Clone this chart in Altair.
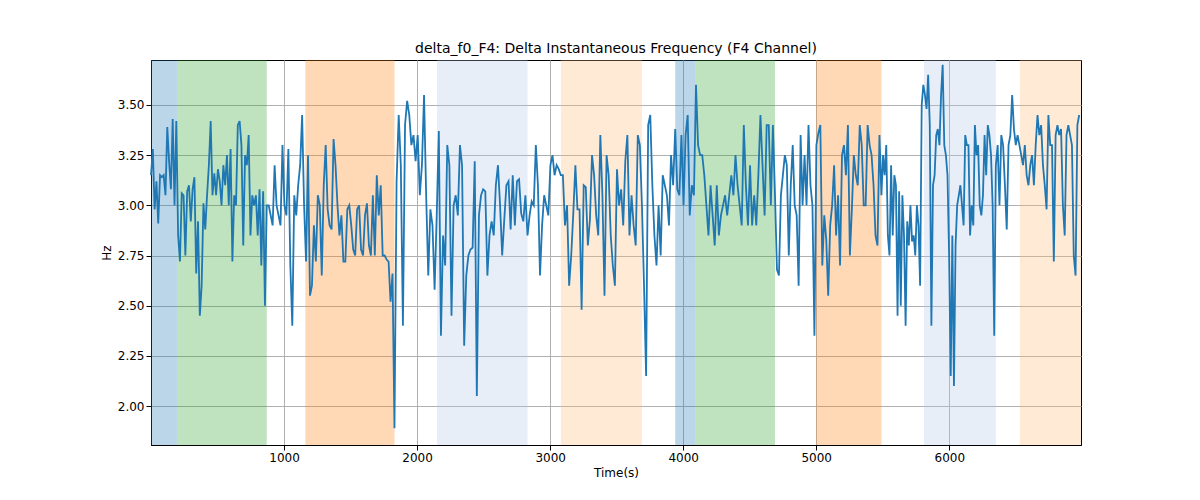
import altair as alt
import pandas as pd
import numpy as np

seg_bounds = [0, 870, 1830, 2830, 3690, 4690, 5490, 6350, 6990]
seg_vals = [
[3.15,3.28,2.98,3.12,2.91,3.15,3.14,3.15,3.05,3.39,3.22,3.08,3.43,3.00,3.42,2.85,2.72,3.06,3.05,2.75,3.07,3.10,2.92,3.08,3.14,2.66,2.92,2.45,2.60,3.01,2.88,3.05,3.20,3.42,3.05,3.16,3.05,3.18,3.12,3.00,3.20,3.10,3.25,3.00,3.28,2.72,3.05,3.00,3.40,3.42,3.30,2.80,3.25,3.20,3.35,2.85,3.05,3.00,3.05,2.85,3.08,2.70,3.07,2.50],
[3.00,3.00,2.95,2.90,3.20,3.00,2.95,2.90,3.30,3.00,2.95,3.28,2.70,2.40,3.05,2.95,3.10,3.20,3.45,3.00,2.72,3.25,2.55,2.60,2.90,2.72,3.05,3.00,2.65,3.10,3.30,2.98,2.90,2.88,3.33,3.20,3.00,2.85,2.95,2.72,2.72,2.98,3.00,2.90,2.78,2.75,2.98,3.00,2.78,2.75,2.95,3.01,2.80,2.75,3.05,2.75,3.15,2.95,3.10,2.75,2.75,2.73,2.72,2.52,2.66],
[1.89,3.12,3.45,3.20,2.40,3.40,3.52,3.45,3.30,3.35,3.22,3.35,3.05,3.20,3.55,3.05,2.65,2.98,2.90,2.58,2.95,3.37,2.35,2.85,2.70,3.30,3.20,2.45,3.00,3.05,2.95,3.30,3.20,2.30,2.65,2.75,2.78,2.79,3.22,2.05,2.95,3.05,3.08,3.07,2.65,2.85,2.92,2.85,3.10,3.20,3.00,2.75,2.93,3.10,3.12,2.88,3.15,2.90,3.12,3.13,2.96,2.92,3.05],
[2.85,2.95,3.02,3.00,3.30,3.10,2.65,2.90,3.05,3.00,2.95,3.20,3.25,3.15,3.20,3.18,3.15,3.15,2.90,3.00,2.60,2.75,2.96,3.20,2.98,2.98,2.48,3.10,3.09,2.80,2.93,3.25,3.15,2.95,2.85,3.35,3.05,2.55,3.25,3.15,2.85,2.70,2.60,3.18,3.00,3.08,2.90,3.22,3.35,2.85,3.05,2.90,2.80,3.35,3.30],
[3.00,2.60,2.15,3.40,3.45,3.10,2.85,2.70,3.00,2.75,3.15,3.10,3.05,2.90,3.25,3.10,3.38,3.08,3.05,3.35,3.00,3.35,3.45,2.95,3.10,3.05,3.60,3.30,3.25,3.25,3.15,3.00,2.85,3.10,2.95,2.80,3.10,2.85,2.95,3.00,3.05,2.95,3.05,3.15,3.05,3.25,3.10,3.00,2.90,3.40,3.10,2.90,3.20,2.90,3.05,2.90,3.15,3.45,3.20,2.95,3.40,3.40,3.00,3.40],
[3.05,2.68,2.65,3.05,3.15,3.25,3.20,2.75,3.10,3.30,3.00,2.95,2.60,3.35,3.00,3.25,3.00,3.40,3.10,3.00,2.35,3.30,3.36,3.40,2.70,2.95,2.83,2.55,2.90,3.00,3.20,2.85,3.05,2.70,3.25,3.30,3.15,3.40,2.75,2.98,3.25,3.15,3.10,3.40,3.30,3.00,3.00,3.40,3.30,3.25,3.10,2.85,2.80,3.35],
[3.05,3.25,3.15,3.30,2.85,2.75,3.20,2.85,3.15,3.10,2.45,3.07,2.50,3.05,2.85,2.40,2.92,2.80,3.00,2.82,2.85,2.75,3.00,2.90,2.60,3.50,3.60,3.55,3.48,3.65,3.40,2.40,3.10,3.15,3.35,3.38,3.30,3.55,3.70,3.30,3.25,3.15,2.75,2.15,2.85,2.10,2.80,3.00,3.05,3.10,3.00,2.90,3.35,3.30,3.30,2.85,3.00,2.90,3.40,3.25,3.30,3.00,2.95,3.05,3.35,3.15,3.40,3.35,3.25,3.00,2.35],
[3.20,3.30,3.00,3.35,3.30,3.10,2.88,3.30,3.35,3.55,3.38,3.30,3.35,3.30,3.25,3.20,3.30,3.15,3.10,3.20,3.25,3.10,3.30,3.45,3.35,3.40,3.20,3.10,2.98,3.45,3.30,3.30,2.72,3.35,3.40,3.35,3.38,3.00,2.85,3.35,3.40,3.35,3.30,2.75,2.65,3.40,3.45],
]

xs, ys = [], []
for i, vals in enumerate(seg_vals):
    a, b = seg_bounds[i], seg_bounds[i + 1]
    step = (b - a) / len(vals)
    for j, v in enumerate(vals):
        xs.append(a + j * step)
        ys.append(v)
line_df = pd.DataFrame({"t": xs, "hz": ys})

band_start = [0, 195, 1160, 2150, 3080, 3940, 4090, 5000, 5810, 6530]
band_end = [195, 870, 1830, 2830, 3690, 4090, 4690, 5490, 6350, 6990]
band_color = ["#1f77b4", "#2ca02c", "#ff7f0e", "#aec7e8", "#ffbb78",
              "#1f77b4", "#2ca02c", "#ff7f0e", "#aec7e8", "#ffbb78"]
band_df = pd.DataFrame({"s": band_start, "e": band_end, "c": band_color})

xsc = alt.Scale(domain=[0, 6990], nice=False, zero=False)
ysc = alt.Scale(domain=[1.806, 3.724], nice=False, zero=False)

bands = alt.Chart(band_df).mark_rect(opacity=0.3).encode(
    x=alt.X("s:Q", scale=xsc), x2="e:Q",
    color=alt.Color("c:N", scale=None),
)

line = alt.Chart(line_df).mark_line(color="#1f77b4", strokeWidth=1.8).encode(
    x=alt.X("t:Q", scale=xsc, title="Time(s)",
            axis=alt.Axis(values=[1000, 2000, 3000, 4000, 5000, 6000], format="d",
                          grid=True, gridColor="#b0b0b0", tickColor="black",
                          domainColor="black", labelColor="black", titleColor="black",
                          labelFontSize=12, titleFontSize=12, titleFontWeight="normal",
                          labelFont="DejaVu Sans", titleFont="DejaVu Sans")),
    y=alt.Y("hz:Q", scale=ysc, title="Hz",
            axis=alt.Axis(values=[2.0, 2.25, 2.5, 2.75, 3.0, 3.25, 3.5], format=".2f",
                          grid=True, gridColor="#b0b0b0", tickColor="black",
                          domainColor="black", labelColor="black", titleColor="black",
                          labelFontSize=12, titleFontSize=12, titleFontWeight="normal",
                          labelFont="DejaVu Sans", titleFont="DejaVu Sans")),
)

chart = alt.layer(bands, line).properties(
    width=930, height=385,
    title=alt.TitleParams("delta_f0_F4: Delta Instantaneous Frequency (F4 Channel)",
                          font="DejaVu Sans", fontSize=14, fontWeight="normal", color="black"),
    padding={"left": 92, "top": 34, "right": 10, "bottom": 10},
).configure_view(stroke="black", strokeWidth=1)

chart.save("out.html", embed_options={"renderer": "svg", "actions": False})
